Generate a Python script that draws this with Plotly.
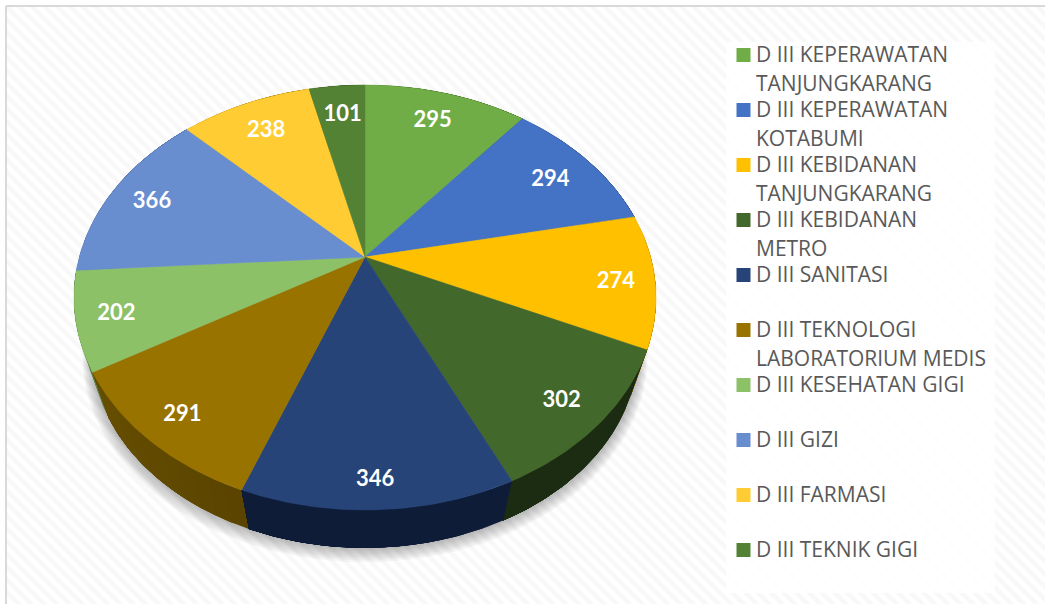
import numpy as np
import plotly.graph_objects as go

values = [295, 294, 274, 302, 346, 291, 202, 366, 238, 101]
legend_first = ["D III KEPERAWATAN", "D III KEPERAWATAN", "D III KEBIDANAN", "D III KEBIDANAN",
                "D III SANITASI", "D III TEKNOLOGI", "D III KESEHATAN GIGI", "D III GIZI",
                "D III FARMASI", "D III TEKNIK GIGI"]
legend_second = ["TANJUNGKARANG", "KOTABUMI", "TANJUNGKARANG", "METRO", "",
                 "LABORATORIUM MEDIS", "", "", "", ""]
top_colors = ["#70AD47", "#4472C4", "#FFC000", "#43682B", "#264478",
              "#997300", "#8CC168", "#698ED0", "#FFCD33", "#548235"]
side_colors = [(58, 90, 36), (34, 58, 100), (128, 96, 0), (28, 44, 18), (14, 28, 56),
               (88, 67, 0), (74, 106, 52), (52, 72, 112), (128, 102, 16), (42, 65, 24)]
label_nudge = [(-3, 7), (-6, 7), (5, 5), (2, 6), (-1, 16), (-4, 7), (-5, 4), (2, 4), (5, 8), (2, 7)]

CX, CY = 365, 257
B, A, K = 285.7, 204.8, 0.1906
SHRINK, DROP = 0.94, 53


def project(theta, r=1.0):
    d = 1 + K * r * np.cos(theta)
    return CX + B * r * np.sin(theta) / d, CY - A * r * np.cos(theta) / d


def lower(x, y, grow=0.0, shift=0.0):
    return CX + (x - CX) * (SHRINK + grow), CY + DROP + shift + (y - CY) * (SHRINK + grow)


fig = go.Figure()


def poly(x, y, color, width=0.0):
    fig.add_trace(go.Scatter(x=list(x), y=list(y), mode="lines", fill="toself", fillcolor=color,
                             line=dict(width=width, color=color), hoverinfo="skip", showlegend=False))


# hatched page background
fig.add_trace(go.Scatter(x=[6, 1045, 1045, 6, 6], y=[6, 6, 604, 604, 6], mode="lines", fill="toself",
                         fillcolor="rgba(255,255,255,1)", line=dict(width=0), hoverinfo="skip", showlegend=False,
                         fillpattern=dict(shape="\\", size=9, solidity=0.5, fgcolor="#f2f2f2", bgcolor="#ffffff")))

# paler panel behind the legend
poly([726, 995, 995, 726, 726], [42, 42, 593, 593, 42], "rgba(255,255,255,0.85)")

edges = np.cumsum([0] + values) / sum(values) * 2 * np.pi

# soft shadow
tt = np.linspace(0, 2 * np.pi, 241)
xt, yt = project(tt)
for i in range(1, 9):
    xs, ys = lower(xt, yt, grow=0.004 * i, shift=i * 0.8)
    poly(xs, ys, "rgba(0,0,0,0.035)")

# walls, back to front; each run reaches to the slice end so the next paints over it without seams
mids = (edges[:-1] + edges[1:]) / 2
for i in np.argsort(-np.cos(mids)):
    bounds = np.linspace(edges[i], edges[i + 1], 13)
    for a0, a1 in zip(bounds[:-1], bounds[1:]):
        th = np.linspace(a0, edges[i + 1], 40)
        xr, yr = project(th)
        xb, yb = lower(xr, yr)
        f = 1 + 0.3 * max(0.0, -np.sin((a0 + a1) / 2) - 0.3)
        c = "rgb(%d,%d,%d)" % tuple(min(255, int(v * f)) for v in side_colors[i])
        poly(np.r_[xr, xb[::-1], xr[0]], np.r_[yr, yb[::-1], yr[0]], c)

# top face
for i in range(len(values)):
    th = np.linspace(edges[i], edges[i + 1], 60)
    xr, yr = project(th)
    poly(np.r_[CX, xr, CX], np.r_[CY, yr, CY], top_colors[i], width=0.5)

# data labels
lx, ly = project(mids, 0.85)
lx = lx + np.array([n[0] for n in label_nudge])
ly = ly + np.array([n[1] for n in label_nudge])
fig.add_trace(go.Scatter(x=lx, y=ly, mode="text", text=[str(v) for v in values], textposition="middle center",
                         textfont=dict(family="Lato", size=22, color="white", weight="bold"),
                         hoverinfo="skip", showlegend=False))

# legend
LEG_Y = 55 + 55 * np.arange(len(values))
fig.add_trace(go.Scatter(x=[743.5] * len(values), y=LEG_Y, mode="markers",
                         marker=dict(symbol="square", size=14, color=top_colors), hoverinfo="skip", showlegend=False))
annotations = []
for y, a, b in zip(LEG_Y, legend_first, legend_second):
    for yy, t in ((y - 1, a), (y + 28, b)):
        if t:
            annotations.append(dict(x=755, y=yy, text=t, showarrow=False, xanchor="left", yanchor="middle",
                                    height=24, valign="middle", borderpad=0,
                                    xref="x", yref="y", font=dict(family="Open Sans", size=21, color="#595959")))

shapes = [
    dict(type="line", x0=6, x1=6, y0=6, y1=604, line=dict(color="#d9d9d9", width=2)),
    dict(type="line", x0=6, x1=1045, y0=6, y1=6, line=dict(color="#d9d9d9", width=2)),
]

fig.update_layout(width=1045, height=604, margin=dict(l=0, r=0, t=0, b=0), paper_bgcolor="white", plot_bgcolor="white",
                  xaxis=dict(range=[0, 1045], visible=False, fixedrange=True),
                  yaxis=dict(range=[604, 0], visible=False, fixedrange=True),
                  annotations=annotations, shapes=shapes, showlegend=False)
fig.write_html("out.html", config=dict(displayModeBar=False), post_script="document.body.style.margin='0';")
